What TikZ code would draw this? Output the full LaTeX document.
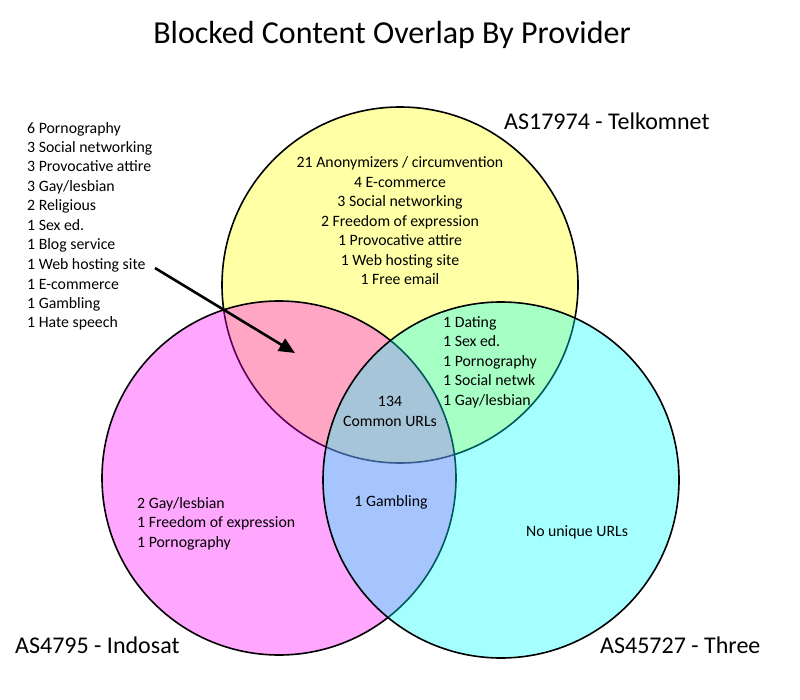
\documentclass[tikz,border=0pt]{standalone}
\usepackage{fontspec}
\setmainfont{Carlito}
\usetikzlibrary{arrows.meta}
\definecolor{vyel}{RGB}{255,255,0}
\definecolor{vmag}{RGB}{255,0,255}
\definecolor{vcya}{RGB}{0,255,255}
\begin{document}
\begin{tikzpicture}[x=1pt,y=-1pt,
  venn/.style={draw=black,line width=1.6pt,fill opacity=0.35},
  txt/.style={inner sep=0pt,font=\fontsize{15.8}{19.5}\selectfont},
  lbl/.style={inner sep=0pt,font=\fontsize{24}{28}\selectfont,anchor=base west},
  ttl/.style={inner sep=0pt,font=\fontsize{32}{36}\selectfont,anchor=base}]
\useasboundingbox[fill=white] (0,0) rectangle (800,700);
% circles
\draw[venn,fill=vyel] (400,285) circle[radius=178];
\draw[venn,fill=vmag] (279,478) circle[radius=177];
\draw[venn,fill=vcya] (501,480) circle[radius=178];
% title and labels
\node[ttl] (title) at (392,44) {Blocked Content Overlap By Provider};
\node[lbl] (telk) at (504,130) {AS17974 - Telkomnet};
\node[lbl] (indo) at (15,653) {AS4795 - Indosat};
\node[lbl] (three) at (600,653) {AS45727 - Three};
% lists (anchored at the baseline of their last line)
\node[txt,anchor=base west,align=left] (leftlist) at (27,328) {6 Pornography\\3 Social networking\\3 Provocative attire\\3 Gay/lesbian\\2 Religious\\1 Sex ed.\\1 Blog service\\1 Web hosting site\\1 E-commerce\\1 Gambling\\1 Hate speech};
\node[txt,anchor=base,align=center] (yel) at (400,285) {21 Anonymizers / circumvention\\4 E-commerce\\3 Social networking\\2 Freedom of expression\\1 Provocative attire\\1 Web hosting site\\1 Free email};
\node[txt,anchor=base west,align=left] (grn) at (443,405) {1 Dating\\1 Sex ed.\\1 Pornography\\1 Social netwk\\1 Gay/lesbian};
\node[txt,anchor=base,align=center] (common) at (390,426) {134\\Common URLs};
\node[txt,anchor=base west,align=left] (pnk) at (137,547) {2 Gay/lesbian\\1 Freedom of expression\\1 Pornography};
\node[txt,anchor=base] (gamb) at (391,506) {1 Gambling};
\node[txt,anchor=base] (nouniq) at (577,536) {No unique URLs};
% arrow
\coordinate (arrS) at (155,268);
\coordinate (arrE) at (295,353);
\draw[line width=2.6pt,-{Triangle[length=16pt,width=14pt]}] (arrS) -- (arrE);
\end{tikzpicture}
\end{document}
